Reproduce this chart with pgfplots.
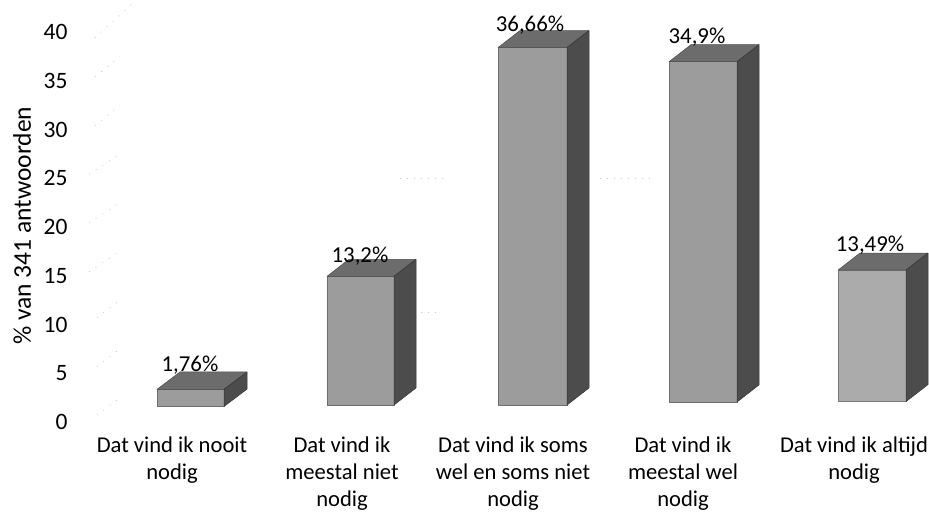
\documentclass[border=0pt]{standalone}
\usepackage{fontspec}
\setmainfont{Carlito}
\usepackage{pgfplots}
\pgfplotsset{compat=1.18}
\definecolor{fr}{HTML}{9C9C9C}
\definecolor{tp}{HTML}{6C6C6C}
\definecolor{sd}{HTML}{4C4C4C}
\pgfplotsset{
 face/.style={draw=#1!70!black,line width=0.5pt,fill=#1,line join=round,forget plot},
}
\begin{document}
\begin{tikzpicture}
\path[use as bounding box] (-75pt,-90pt) rectangle (854pt,422pt);
\begin{axis}[
 at={(0,0)},anchor=south west,
 scale only axis,width=854pt,height=422pt,
 xmin=75,xmax=929,ymin=0,ymax=43.28,
 axis line style={draw=none},
 tick style={draw=none},
 clip=false,
 ytick={0,5,...,40},
 xtick={172,342,513,683,854},
 xticklabels={{Dat vind ik nooit\\nodig},{Dat vind ik\\meestal niet\\nodig},{Dat vind ik soms\\wel en soms niet\\nodig},{Dat vind ik\\meestal wel\\nodig},{Dat vind ik altijd\\nodig}},
 xticklabel style={align=center,anchor=north,inner ysep=0pt,yshift=-15pt,font=\fontsize{22.6}{27}\selectfont},
 yticklabel style={font=\fontsize{23.5}{26}\selectfont,anchor=east,xshift=-4pt},
 /pgf/number format/assume math mode=true,
 ylabel={\% van 341 antwoorden},
 ylabel style={at={(axis description cs:-0.062,0.465)},anchor=center,font=\fontsize{25.5}{28}\selectfont},
]
% faint wall specks
\addplot[gray!55,line width=0.5pt,dash pattern=on 1pt off 7pt,forget plot] coordinates {(97,0.7)(120,2.5)};
\addplot[gray!55,line width=0.5pt,dash pattern=on 1pt off 7pt,forget plot] coordinates {(97,5.7)(120,7.5)};
\addplot[gray!55,line width=0.5pt,dash pattern=on 1pt off 7pt,forget plot] coordinates {(97,10.7)(120,12.5)};
\addplot[gray!55,line width=0.5pt,dash pattern=on 1pt off 7pt,forget plot] coordinates {(89,15.4)(120,17.5)};
\addplot[gray!55,line width=0.5pt,dash pattern=on 1pt off 7pt,forget plot] coordinates {(89,20.4)(120,22.5)};
\addplot[gray!55,line width=0.5pt,dash pattern=on 1pt off 7pt,forget plot] coordinates {(89,25.4)(120,27.5)};
\addplot[gray!55,line width=0.5pt,dash pattern=on 1pt off 7pt,forget plot] coordinates {(95,30.4)(120,32.5)};
\addplot[gray!55,line width=0.5pt,dash pattern=on 1pt off 7pt,forget plot] coordinates {(95,35.4)(120,37.5)};
\addplot[gray!55,line width=0.5pt,dash pattern=on 1pt off 7pt,forget plot] coordinates {(95,39.4)(132,42.9)};
\addplot[gray!45,line width=0.5pt,dash pattern=on 1pt off 6pt,forget plot] coordinates {(400,25.0)(445,25.0)};
\addplot[gray!45,line width=0.5pt,dash pattern=on 1pt off 6pt,forget plot] coordinates {(600,25.0)(655,25.0)};
\addplot[gray!45,line width=0.5pt,dash pattern=on 1pt off 6pt,forget plot] coordinates {(400,11.3)(440,11.3)};
% bar 1
\addplot[face=fr] coordinates {(157,1.59)(224,1.59)(224,3.35)(157,3.35)} -- cycle;
\addplot[face=tp] coordinates {(157,3.35)(180,5.13)(247,5.13)(224,3.35)} -- cycle;
\addplot[face=sd] coordinates {(224,1.59)(247,3.37)(247,5.13)(224,3.35)} -- cycle;
% bar 2
\addplot[face=fr] coordinates {(327,1.74)(394,1.74)(394,14.94)(327,14.94)} -- cycle;
\addplot[face=tp] coordinates {(327,14.94)(349,16.69)(416,16.69)(394,14.94)} -- cycle;
\addplot[face=sd] coordinates {(394,1.74)(416,3.49)(416,16.69)(394,14.94)} -- cycle;
% bar 3
\addplot[face=fr] coordinates {(498,1.74)(567,1.74)(567,38.40)(498,38.40)} -- cycle;
\addplot[face=tp] coordinates {(498,38.40)(520,40.15)(589,40.15)(567,38.40)} -- cycle;
\addplot[face=sd] coordinates {(567,1.74)(589,3.49)(589,40.15)(567,38.40)} -- cycle;
% bar 4
\addplot[face=fr] coordinates {(669,2.05)(737,2.05)(737,36.95)(669,36.95)} -- cycle;
\addplot[face=tp] coordinates {(669,36.95)(691,38.70)(759,38.70)(737,36.95)} -- cycle;
\addplot[face=sd] coordinates {(737,2.05)(759,3.80)(759,38.70)(737,36.95)} -- cycle;
% bar 5
\addplot[face=fr!85!white] coordinates {(838,2.09)(906,2.09)(906,15.58)(838,15.58)} -- cycle;
\addplot[face=tp] coordinates {(838,15.58)(860,17.33)(928,17.33)(906,15.58)} -- cycle;
\addplot[face=sd] coordinates {(906,2.09)(928,3.84)(928,17.33)(906,15.58)} -- cycle;
% value labels
\addplot[draw=none,mark=none,nodes near coords,point meta=explicit symbolic,
 nodes near coords style={anchor=center,inner sep=0pt,font=\fontsize{22.8}{26}\selectfont}]
 table[meta=lab] {
x y lab
190 5.8 {1,76\%}
360 17.0 {13,2\%}
530 40.7 {36,66\%}
697 39.5 {34,9\%}
870 18.1 {13,49\%}
};
\end{axis}
\end{tikzpicture}
\end{document}
